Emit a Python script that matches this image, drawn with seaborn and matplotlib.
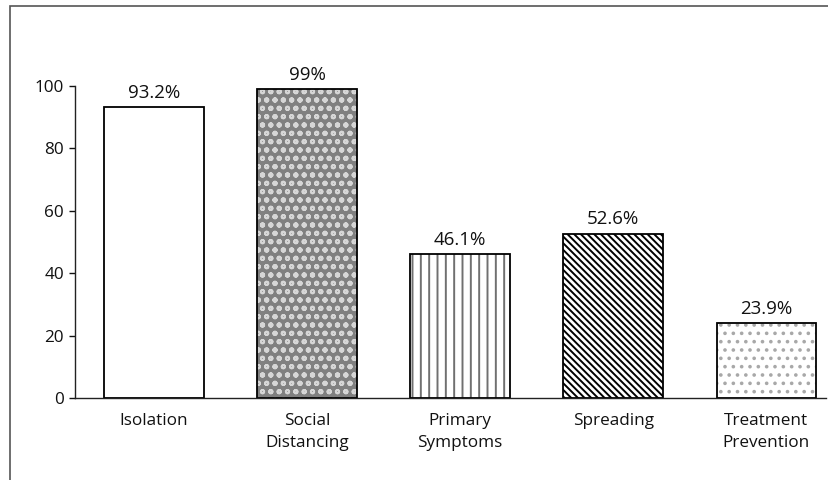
import matplotlib
matplotlib.use("Agg")
import matplotlib.pyplot as plt
from matplotlib.patches import Rectangle
import seaborn as sns
import pandas as pd

categories = ["Isolation", "Social\nDistancing", "Primary\nSymptoms", "Spreading", "Treatment\nPrevention"]
values = [93.2, 99, 46.1, 52.6, 23.9]
value_labels = ["93.2%", "99%", "46.1%", "52.6%", "23.9%"]
yticks = [0, 20, 40, 60, 80, 100]

# fill, hatch pattern and hatch colour for each bar
fills = ["white", "#808080", "white", "white", "white"]
hatches = [None, "oo", "||", "\\" * 5, ".."]
hatch_colors = ["black", "#d6d6d6", "#707070", "black", "#a8a8a8"]

sns.set_style("white")
plt.rcParams["font.family"] = ["Open Sans", "DejaVu Sans"]
plt.rcParams["hatch.linewidth"] = 1.4

df = pd.DataFrame({"category": categories, "value": values})

fig = plt.figure(figsize=(8.29, 4.8), dpi=100)
ax = fig.add_axes([75 / 829, 1 - 398 / 480, (826 - 75) / 829, (398 - 86) / 480])

sns.barplot(data=df, x="category", y="value", color="white", width=0.65,
            edgecolor="black", linewidth=1.3, saturation=1, ax=ax)

for patch, fc, h, hc in zip(ax.patches, fills, hatches, hatch_colors):
    patch.set_facecolor(fc)
    if h:
        patch.set_hatch(h)
    patch.set_edgecolor("black")
    patch._hatch_color = matplotlib.colors.to_rgba(hc)

for i, (v, lab) in enumerate(zip(values, value_labels)):
    ax.text(i, v + 1.8, lab, ha="center", va="bottom", fontsize=13.5,
            color="#111111", clip_on=False)

ax.set_xlim(-0.516, 4.39)
ax.set_ylim(0, 100)
ax.set_yticks(yticks)
ax.set_xlabel("")
ax.set_ylabel("")
ax.tick_params(axis="y", left=True, length=4, width=1, pad=4, labelsize=12.3, colors="#111111")
ax.tick_params(axis="x", length=0, pad=11, labelsize=12.3, colors="#111111")
for lbl in ax.get_xticklabels():
    lbl.set_linespacing(1.45)

sns.despine(ax=ax, top=True, right=True)
for s in ["left", "bottom"]:
    ax.spines[s].set_color("#222222")
    ax.spines[s].set_linewidth(1.0)

# outer frame around the figure
fig.add_artist(Rectangle((10 / 829, -0.5), 1.5, 1.5 - 6 / 480,
                         transform=fig.transFigure, fill=False,
                         edgecolor="#555555", linewidth=1.2))

fig.savefig("out.png", dpi=100)
